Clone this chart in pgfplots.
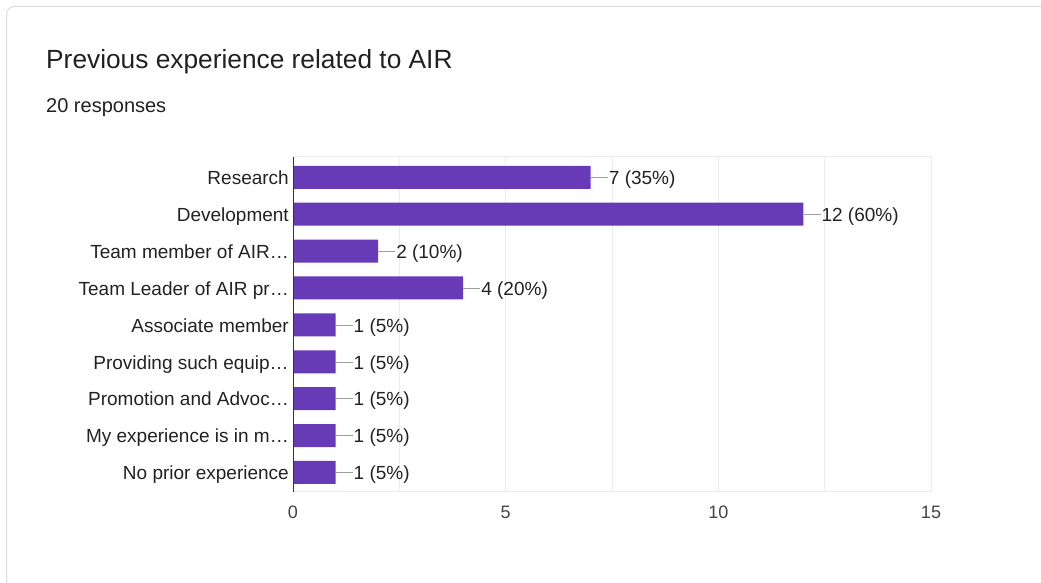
\documentclass[border=0pt]{standalone}
\usepackage{pgfplots}
\pgfplotsset{compat=1.18}
\usepackage{pgfplotstable}
\usepackage{fontspec}
\setmainfont{Liberation Sans}

\definecolor{barpurple}{HTML}{673AB7}
\definecolor{cardline}{HTML}{DADCE0}
\definecolor{gridgray}{HTML}{EBEBEB}
\definecolor{axisdark}{HTML}{333333}
\definecolor{labeltext}{HTML}{222222}
\definecolor{ticktext}{HTML}{444444}
\definecolor{titletext}{HTML}{202124}
\definecolor{leader}{HTML}{9E9E9E}

% answers per option (pos 8 = first option at the top)
\pgfplotstableread[col sep=comma]{
pos,count,pct
8,7,35
7,12,60
6,2,10
5,4,20
4,1,5
3,1,5
2,1,5
1,1,5
0,1,5
}\experience

\begin{document}
\begin{tikzpicture}
\path[use as bounding box] (0,0) rectangle (1041pt,583pt);

% card outline
\begin{scope}
  \clip (0,0) rectangle (1041pt,583pt);
  \draw[cardline, line width=1pt, rounded corners=8pt]
    (6.5pt,-30pt) rectangle (1080pt,576.5pt);
\end{scope}

% heading
\node[anchor=base west, inner sep=0pt, text=titletext,
      font=\fontsize{26.3}{30}\selectfont] at (46pt,514pt)
  {Previous experience related to AIR};
\node[anchor=base west, inner sep=0pt, text=titletext,
      font=\fontsize{20}{24}\selectfont] at (46pt,470pt)
  {20 responses};

\begin{axis}[
  at={(293pt,91pt)}, anchor=south west,
  scale only axis, width=638pt, height=335pt,
  xbar, bar width=23pt,
  xmin=0, xmax=15, ymin=-0.53, ymax=8.55,
  xtick={0,5,10,15}, minor xtick={2.5,7.5,12.5},
  xmajorgrids, xminorgrids,
  major grid style={gridgray, line width=1pt},
  minor grid style={gridgray, line width=1pt},
  axis line style={gridgray, line width=1pt},
  major tick length=0pt, minor tick length=0pt,
  /pgf/number format/assume math mode=true,
  xticklabel style={anchor=north, inner sep=0pt, yshift=-14pt,
    text=ticktext, font=\fontsize{18}{20}\selectfont},
  ytick={0,...,8},
  yticklabels={No prior experience, My experience is in m…,
    Promotion and Advoc…, Providing such equip…, Associate member,
    Team Leader of AIR pr…, Team member of AIR…, Development, Research},
  yticklabel style={anchor=base east, inner sep=0pt, xshift=-4pt,
    yshift=-7.3pt, text=labeltext, font=\fontsize{19}{22}\selectfont},
  point meta=explicit symbolic,
  nodes near coords={\textcolor{leader}{\rule[6.5pt]{17pt}{1pt}}\hspace{1pt}\pgfmathprintnumber{\pgfkeysvalueof{/data point/x}}~(\pgfplotspointmeta\%)},
  every node near coord/.append style={anchor=base west, inner sep=0pt,
    yshift=-7.3pt, text=labeltext, font=\fontsize{19}{22}\selectfont},
]
\addplot[fill=barpurple, draw=none] table[x=count, y=pos, meta=pct] {\experience};
\draw[axisdark, line width=1.4pt] (axis cs:0,-0.53) -- (axis cs:0,8.55);
\end{axis}
\end{tikzpicture}
\end{document}
